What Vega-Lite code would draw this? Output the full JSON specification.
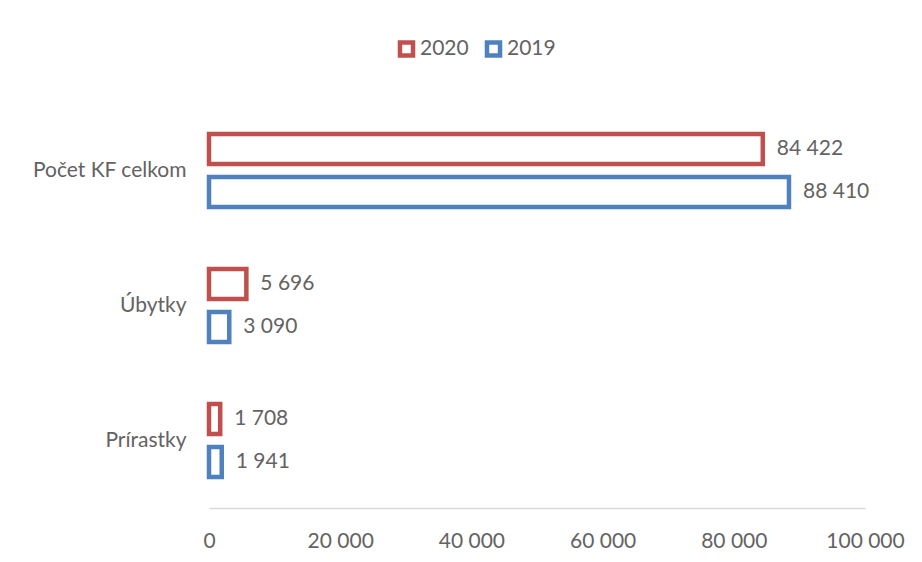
{
  "$schema": "https://vega.github.io/schema/vega-lite/v6.json",
  "autosize": {"type": "none"},
  "padding": {"left": 209, "top": 103, "right": 57, "bottom": 54},
  "width": 656,
  "height": 405,
  "background": "white",
  "config": {
    "locale": {"number": {"decimal": ",", "thousands": " ", "grouping": [3], "currency": ["", ""]}},
    "view": {"stroke": null},
    "font": "Lato"
  },
  "data": {
    "values": [
      {"kategoria": "Počet KF celkom", "rok": "2020", "hodnota": 84422},
      {"kategoria": "Počet KF celkom", "rok": "2019", "hodnota": 88410},
      {"kategoria": "Úbytky", "rok": "2020", "hodnota": 5696},
      {"kategoria": "Úbytky", "rok": "2019", "hodnota": 3090},
      {"kategoria": "Prírastky", "rok": "2020", "hodnota": 1708},
      {"kategoria": "Prírastky", "rok": "2019", "hodnota": 1941}
    ]
  },
  "encoding": {
    "y": {
      "field": "kategoria", "type": "nominal",
      "sort": ["Počet KF celkom", "Úbytky", "Prírastky"],
      "scale": {"paddingInner": 0.46, "paddingOuter": 0.23},
      "axis": {"title": null, "domain": false, "ticks": false, "labelPadding": 23, "labelFontSize": 21, "labelColor": "#636363", "labelFont": "Lato"}
    },
    "yOffset": {
      "field": "rok", "type": "nominal", "sort": ["2020", "2019"],
      "scale": {"paddingInner": 0.3, "paddingOuter": 0}
    },
    "x": {
      "field": "hodnota", "type": "quantitative",
      "scale": {"domain": [0, 100000], "nice": false},
      "axis": {"title": null, "values": [0, 20000, 40000, 60000, 80000, 100000], "format": ",d", "grid": false, "ticks": false, "domainColor": "#d9d9d9", "domainWidth": 1.5, "labelPadding": 22, "labelFontSize": 21, "labelColor": "#636363", "labelFont": "Lato", "labelFlush": false}
    }
  },
  "layer": [
    {
      "mark": {"type": "bar", "fill": "white", "strokeWidth": 4.5},
      "encoding": {
        "stroke": {
          "field": "rok", "type": "nominal",
          "scale": {"domain": ["2020", "2019"], "range": ["#C0504D", "#4F81BD"]},
          "legend": {"title": null, "orient": "none", "legendX": 187, "legendY": -65, "direction": "horizontal", "symbolType": "square", "symbolSize": 170, "symbolStrokeWidth": 4.5, "symbolFillColor": "white", "labelFontSize": 21, "labelColor": "#636363", "labelFont": "Lato", "columnPadding": 8, "labelOffset": 3}
        }
      }
    },
    {
      "mark": {"type": "text", "align": "left", "baseline": "middle", "dx": 14, "fontSize": 21, "color": "#636363", "font": "Lato"},
      "encoding": {"text": {"field": "hodnota", "type": "quantitative", "format": ",d"}}
    }
  ]
}
